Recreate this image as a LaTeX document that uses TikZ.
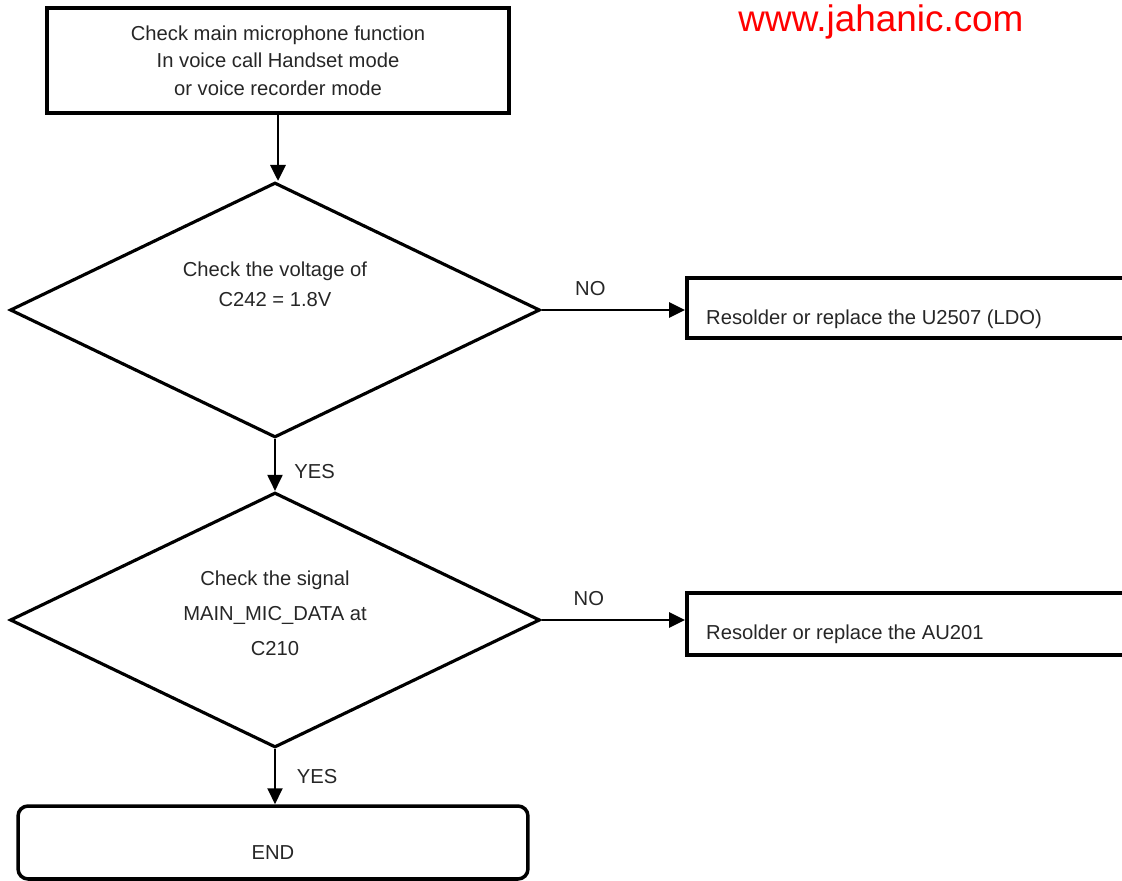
\documentclass[tikz,border=0pt]{standalone}
\usepackage{fontspec}
\setmainfont{Liberation Sans}
\usetikzlibrary{shapes.geometric,arrows.meta}
\begin{document}
\begin{tikzpicture}[x=0.02cm,y=-0.02cm,font=\fontsize{11.5}{15.6}\selectfont,text=black!85,
  box/.style={draw,line width=2pt,inner sep=0pt},
  decision/.style={diamond,draw,line width=1.8pt,inner sep=0pt,aspect=2,minimum width=10.6cm,minimum height=5.1cm},
  arr/.style={-{Triangle[length=0.32cm,width=0.3cm]},line width=1.7pt},
  thinarr/.style={arr,line width=1.1pt}]
\useasboundingbox (0,0) rectangle (1122,881);
\clip (0,0) rectangle (1122,881);
\node[box,minimum width=9.24cm,minimum height=2.1cm,align=center] (start) at (278,60.5) {Check main microphone function\\In voice call Handset mode\\ or voice recorder mode};
\node[decision] (d1) at (275,310) {};
\node[align=center,font=\fontsize{11.5}{17}\selectfont] (q1) at (275,284) {Check the voltage of\\C242 = 1.8V};
\node[decision] (d2) at (275,620) {};
\node[align=center,font=\fontsize{11.5}{19.9}\selectfont] (q2) at (275,613) {Check the signal\\MAIN\_MIC\_DATA at\\C210};
\node[box,anchor=west,minimum width=9cm,minimum height=1.2cm] (r1) at (685,308) {};
\node[anchor=west] (t1) at (700,319) {Resolder or replace the U2507 (LDO)};
\node[box,anchor=west,minimum width=9cm,minimum height=1.24cm] (r2) at (685,624) {};
\node[anchor=west] (t2) at (700,634) {Resolder or replace the AU201};
\node[box,rounded corners=0.2cm,minimum width=10.2cm,minimum height=1.46cm] (stop) at (273,842.5) {};
\node (t3) at (273,853) {END};
\node[red,font=\fontsize{21}{24}\selectfont] (web) at (881,22) {www.jahanic.com};
% connectors
\draw[arr] (start.south) -- (start.south |- d1.north);
\draw[arr] (d1.east) -- node[pos=0.34,above=0.13cm] {NO} (d1.east -| r1.west);
\draw[thinarr] (d1.south) -- node[pos=0.62,right=0.25cm] {YES} (d2.north);
\draw[arr] (d2.east) -- node[pos=0.33,above=0.13cm] {NO} (d2.east -| r2.west);
\draw[thinarr] (d2.south) -- node[pos=0.5,right=0.3cm] {YES} (d2.south |- stop.north);
\end{tikzpicture}
\end{document}
